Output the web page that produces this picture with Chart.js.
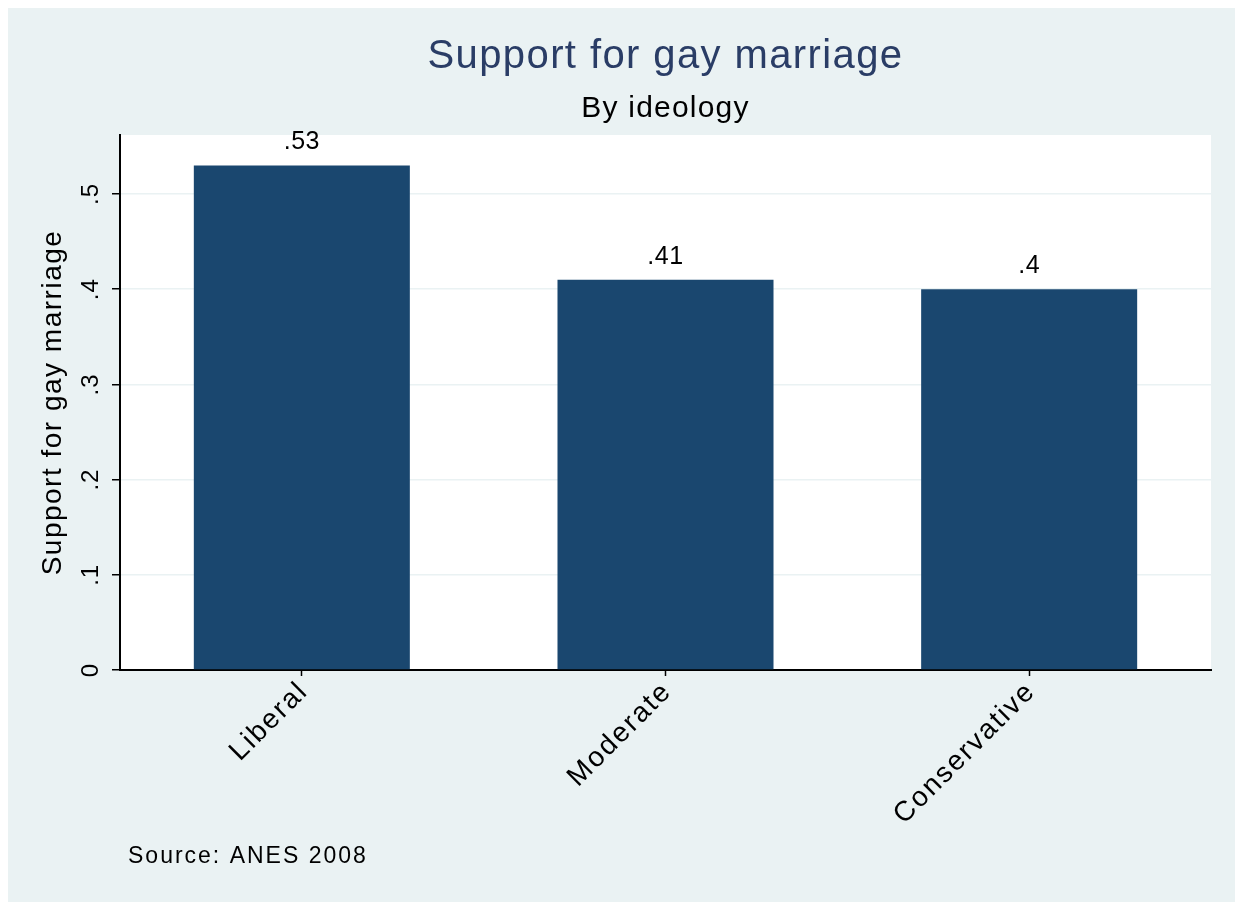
<!DOCTYPE html>
<html>
<head>
<meta charset="utf-8">
<script src="https://cdn.jsdelivr.net/npm/chart.js@4.4.0/dist/chart.umd.min.js"></script>
<style>
  html, body { margin: 0; padding: 0; background: #ffffff; }
  canvas { display: block; }
</style>
</head>
<body>
<canvas id="chart" width="1235" height="902"></canvas>
<script>
// datos del grafico
const categories = ['Liberal', 'Moderate', 'Conservative'];
const support = [0.53, 0.41, 0.40];
const supportLabels = ['.53', '.41', '.4'];
const yTicks = [0, 0.1, 0.2, 0.3, 0.4, 0.5];
const yTickLabels = ['0', '.1', '.2', '.3', '.4', '.5'];

const FONT = '"Liberation Sans", Arial, sans-serif';

function drawText(ctx, text, x, y, size, color, align, spacing, angle) {
    ctx.save();
    ctx.translate(x, y);
    if (angle) ctx.rotate(angle);
    ctx.font = size + 'px ' + FONT;
    ctx.fillStyle = color;
    ctx.textAlign = align;
    ctx.textBaseline = 'middle';
    ctx.letterSpacing = spacing + 'px';
    ctx.fillText(text, 0, 0);
    ctx.restore();
}

// fondo y textos estilo Stata
const stataLook = {
    id: 'stataLook',
    beforeDraw(chart) {
        const ctx = chart.ctx;
        const a = chart.chartArea;
        ctx.save();
        ctx.fillStyle = '#ffffff';
        ctx.fillRect(0, 0, chart.width, chart.height);
        ctx.fillStyle = '#eaf2f3';
        ctx.fillRect(8, 8, chart.width - 8, chart.height - 8);
        ctx.fillStyle = '#ffffff';
        ctx.fillRect(a.left, a.top, a.right - a.left, a.bottom - a.top);
        ctx.restore();
    },
    afterDraw(chart) {
        const ctx = chart.ctx;
        const a = chart.chartArea;
        const cx = (a.left + a.right) / 2;
        drawText(ctx, 'Support for gay marriage', cx, 57, 40, '#2a3d66', 'center', 1.4, 0);
        drawText(ctx, 'By ideology', cx, 109, 30, '#000000', 'center', 1.2, 0);
        drawText(ctx, 'Support for gay marriage', 53, (a.top + a.bottom) / 2, 28, '#000000', 'center', 1.5, -Math.PI / 2);
        drawText(ctx, 'Source: ANES 2008', 128, 857, 23, '#000000', 'left', 2, 0);

        // etiquetas del eje y (verticales)
        const y = chart.scales.y;
        yTicks.forEach((v, i) => {
            drawText(ctx, yTickLabels[i], 91, y.getPixelForValue(v), 24, '#000000', 'center', 1, -Math.PI / 2);
        });

        // etiquetas del eje x (45 grados)
        const x = chart.scales.x;
        categories.forEach((c, i) => {
            drawText(ctx, c, x.getPixelForTick(i) + 2, a.bottom + 17, 28, '#000000', 'right', 2, -Math.PI / 4);
        });

        // valores sobre las barras
        const meta = chart.getDatasetMeta(0);
        meta.data.forEach((bar, i) => {
            drawText(ctx, supportLabels[i], bar.x, bar.y - 23, 25, '#000000', 'center', 0.5, 0);
        });
    }
};

const ctx = document.getElementById('chart').getContext('2d');
const chart = new Chart(ctx, {
    type: 'bar',
    data: {
        labels: categories,
        datasets: [{
            label: 'Support for gay marriage',
            data: support,
            backgroundColor: '#1a476f',
            borderWidth: 0,
            categoryPercentage: 1,
            barPercentage: 0.594
        }]
    },
    options: {
        responsive: false,
        animation: false,
        devicePixelRatio: 1,
        layout: {
            padding: { left: 0, top: 135, right: 24, bottom: 0 }
        },
        plugins: {
            legend: { display: false },
            title: { display: false },
            tooltip: { enabled: false }
        },
        scales: {
            x: {
                afterFit: s => { s.height = 232; },
                ticks: { display: false },
                grid: {
                    display: true,
                    offset: false,
                    drawOnChartArea: false,
                    drawTicks: true,
                    tickLength: 6,
                    tickColor: '#000000',
                    tickWidth: 1.5
                },
                border: { display: true, color: '#000000', width: 2 }
            },
            y: {
                min: 0,
                max: 0.562,
                afterFit: s => { s.width = 120; },
                afterBuildTicks: s => { s.ticks = yTicks.map(v => ({ value: v })); },
                ticks: { display: false },
                grid: {
                    color: '#eaf2f3',
                    lineWidth: 1.5,
                    drawTicks: true,
                    tickLength: 8,
                    tickColor: '#000000',
                    tickWidth: 1.5
                },
                border: { display: true, color: '#000000', width: 2 }
            }
        }
    },
    plugins: [stataLook]
});
</script>
</body>
</html>
